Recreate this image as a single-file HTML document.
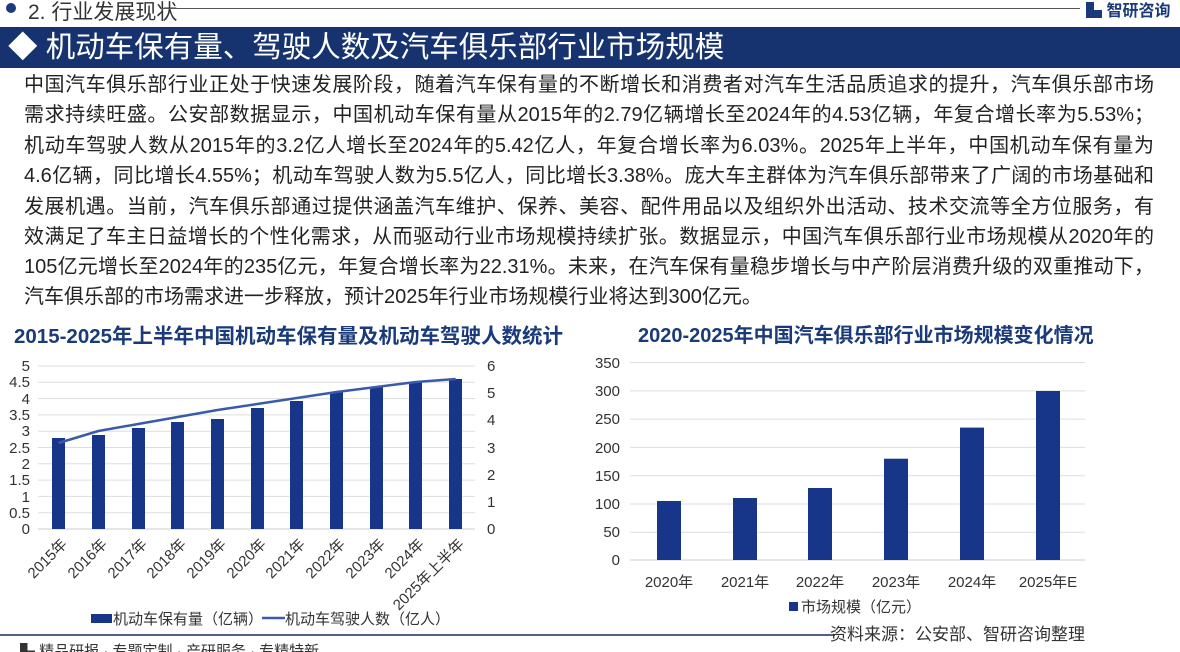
<!DOCTYPE html>
<html><head><meta charset="utf-8"><style>
*{margin:0;padding:0;box-sizing:border-box}
body{width:1180px;height:652px;background:#fff;position:relative;overflow:hidden;font-family:"Liberation Sans","Noto Sans CJK SC",sans-serif;color:#222}
.ab{position:absolute}
.ln{position:absolute;left:24px;width:1130px;font-size:20px;text-align:justify;text-align-last:justify;white-space:nowrap;line-height:22px}
</style></head><body>
<div class="ab" style="left:6px;top:3px;width:10px;height:10px;border-radius:50%;background:#1a3a7a"></div>
<div class="ab" style="left:28px;top:-4px;font-size:21px;color:#333">2. 行业发展现状</div>
<div class="ab" style="left:160px;top:8px;width:920px;height:1px;background:#555"></div>
<div class="ab" style="left:1086px;top:-3px;font-size:16px;font-weight:bold;color:#1a3a7a">▙ 智研咨询</div>
<div class="ab" style="left:0;top:27px;width:1180px;height:41px;background:#17336f"></div>
<div class="ab" style="left:8px;top:30px;font-size:29.5px;color:#fff;line-height:36px">◆ 机动车保有量、驾驶人数及汽车俱乐部行业市场规模</div>
<div class="ln" style="top:74px">中国汽车俱乐部行业正处于快速发展阶段，随着汽车保有量的不断增长和消费者对汽车生活品质追求的提升，汽车俱乐部市场</div>
<div class="ln" style="top:104px">需求持续旺盛。公安部数据显示，中国机动车保有量从2015年的2.79亿辆增长至2024年的4.53亿辆，年复合增长率为5.53%；</div>
<div class="ln" style="top:135px">机动车驾驶人数从2015年的3.2亿人增长至2024年的5.42亿人，年复合增长率为6.03%。2025年上半年，中国机动车保有量为</div>
<div class="ln" style="top:165px">4.6亿辆，同比增长4.55%；机动车驾驶人数为5.5亿人，同比增长3.38%。庞大车主群体为汽车俱乐部带来了广阔的市场基础和</div>
<div class="ln" style="top:196px">发展机遇。当前，汽车俱乐部通过提供涵盖汽车维护、保养、美容、配件用品以及组织外出活动、技术交流等全方位服务，有</div>
<div class="ln" style="top:226px">效满足了车主日益增长的个性化需求，从而驱动行业市场规模持续扩张。数据显示，中国汽车俱乐部行业市场规模从2020年的</div>
<div class="ln" style="top:256px">105亿元增长至2024年的235亿元，年复合增长率为22.31%。未来，在汽车保有量稳步增长与中产阶层消费升级的双重推动下，</div>
<div class="ab" style="left:24px;top:286px;font-size:20px;line-height:22px">汽车俱乐部的市场需求进一步释放，预计2025年行业市场规模行业将达到300亿元。</div>
<div class="ab" style="left:14px;top:319px;font-size:20.5px;font-weight:bold;color:#1a3a7a">2015-2025年上半年中国机动车保有量及机动车驾驶人数统计</div>
<div class="ab" style="left:638px;top:319px;font-size:20px;font-weight:bold;color:#1a3a7a">2020-2025年中国汽车俱乐部行业市场规模变化情况</div>
<svg class="ab" style="left:0;top:340px" width="1180" height="312" font-family="Liberation Sans, Noto Sans CJK SC, sans-serif">
<g stroke="#ddd" stroke-width="1">
<line x1="38" x2="475" y1="26" y2="26"/><line x1="38" x2="475" y1="42.3" y2="42.3"/><line x1="38" x2="475" y1="58.6" y2="58.6"/><line x1="38" x2="475" y1="74.9" y2="74.9"/><line x1="38" x2="475" y1="91.2" y2="91.2"/><line x1="38" x2="475" y1="107.5" y2="107.5"/><line x1="38" x2="475" y1="123.8" y2="123.8"/><line x1="38" x2="475" y1="140.1" y2="140.1"/><line x1="38" x2="475" y1="156.4" y2="156.4"/><line x1="38" x2="475" y1="172.7" y2="172.7"/>
<line x1="38" x2="475" y1="189" y2="189" stroke="#ccc"/>
</g>
<g font-size="15" fill="#333" text-anchor="end">
<text x="30" y="31">5</text><text x="30" y="47">4.5</text><text x="30" y="64">4</text><text x="30" y="80">3.5</text><text x="30" y="96">3</text><text x="30" y="113">2.5</text><text x="30" y="129">2</text><text x="30" y="145">1.5</text><text x="30" y="162">1</text><text x="30" y="178">0.5</text><text x="30" y="194">0</text>
</g>
<g font-size="15" fill="#333">
<text x="487" y="31">6</text><text x="487" y="58">5</text><text x="487" y="85">4</text><text x="487" y="113">3</text><text x="487" y="140">2</text><text x="487" y="167">1</text><text x="487" y="194">0</text>
</g>
<g fill="#17368a">
<rect x="52" y="98" width="13" height="91"/><rect x="92" y="95" width="13" height="94"/><rect x="132" y="88" width="13" height="101"/><rect x="171" y="82" width="13" height="107"/><rect x="211" y="79" width="13" height="110"/><rect x="251" y="68" width="13" height="121"/><rect x="290" y="61" width="13" height="128"/><rect x="330" y="52" width="13" height="137"/><rect x="370" y="47" width="13" height="142"/><rect x="409" y="42" width="13" height="147"/><rect x="449" y="39" width="13" height="150"/>
</g>
<polyline fill="none" stroke="#3a5ba8" stroke-width="2.5" points="58.5,103 98.4,91 138.1,84 177.8,77 217.5,70 257.2,64 296.9,58 336.6,52 376.3,47 416,42 455.7,39"/>
<g font-size="15" fill="#333" text-anchor="end">
<text transform="translate(68,205) rotate(-45)">2015年</text><text transform="translate(108,205) rotate(-45)">2016年</text><text transform="translate(148,205) rotate(-45)">2017年</text><text transform="translate(187,205) rotate(-45)">2018年</text><text transform="translate(227,205) rotate(-45)">2019年</text><text transform="translate(267,205) rotate(-45)">2020年</text><text transform="translate(306,205) rotate(-45)">2021年</text><text transform="translate(346,205) rotate(-45)">2022年</text><text transform="translate(386,205) rotate(-45)">2023年</text><text transform="translate(425,205) rotate(-45)">2024年</text><text transform="translate(465,205) rotate(-45)">2025年上半年</text>
</g>
<rect x="91" y="274" width="21" height="9" fill="#17368a"/>
<text x="113" y="284" font-size="15" fill="#333">机动车保有量（亿辆）</text>
<line x1="262" x2="285" y1="278" y2="278" stroke="#3a5ba8" stroke-width="2.5"/>
<text x="285" y="284" font-size="15" fill="#333">机动车驾驶人数（亿人）</text>
<line x1="0" x2="590" y1="295" y2="295" stroke="#1a2a5a" stroke-width="1.5"/>
<text x="20" y="316" font-size="15" fill="#333">▙ 精品研报 · 专题定制 · 产研服务 · 专精特新</text>
<g stroke="#ddd" stroke-width="1">
<line x1="630" x2="1085" y1="22.6" y2="22.6"/><line x1="630" x2="1085" y1="50.9" y2="50.9"/><line x1="630" x2="1085" y1="79.1" y2="79.1"/><line x1="630" x2="1085" y1="107.4" y2="107.4"/><line x1="630" x2="1085" y1="135.7" y2="135.7"/><line x1="630" x2="1085" y1="164" y2="164"/><line x1="630" x2="1085" y1="192.3" y2="192.3"/><line x1="630" x2="1085" y1="220" y2="220" stroke="#ccc"/>
</g>
<g font-size="15" fill="#333" text-anchor="end">
<text x="620" y="28">350</text><text x="620" y="56">300</text><text x="620" y="84">250</text><text x="620" y="113">200</text><text x="620" y="141">150</text><text x="620" y="169">100</text><text x="620" y="197">50</text><text x="620" y="225">0</text>
</g>
<g fill="#17368a">
<rect x="657" y="161" width="24" height="59"/><rect x="733" y="158" width="24" height="62"/><rect x="808" y="148" width="24" height="72"/><rect x="884" y="118.7" width="24" height="101.3"/><rect x="960" y="87.6" width="24" height="132.4"/><rect x="1036" y="51" width="24" height="169"/>
</g>
<g font-size="15" fill="#333" text-anchor="middle">
<text x="669" y="247">2020年</text><text x="745" y="247">2021年</text><text x="820" y="247">2022年</text><text x="896" y="247">2023年</text><text x="972" y="247">2024年</text><text x="1048" y="247">2025年E</text>
</g>
<rect x="789" y="262" width="9" height="9" fill="#17368a"/>
<text x="801" y="272" font-size="15" fill="#333">市场规模（亿元）</text>
<line x1="590" x2="835" y1="295" y2="295" stroke="#1a2a5a" stroke-width="1.5"/>
<text x="1085" y="300" font-size="17" fill="#333" text-anchor="end">资料来源：公安部、智研咨询整理</text>
</svg>
</body></html>
